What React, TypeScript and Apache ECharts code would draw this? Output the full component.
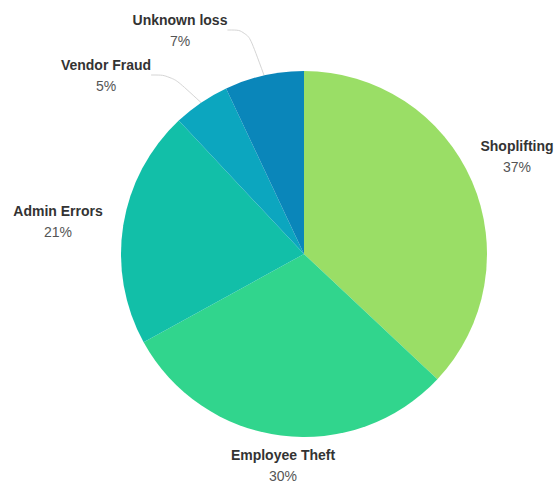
import React, { useEffect, useRef } from "react";
import * as echarts from "echarts";

const categories = ["Shoplifting", "Employee Theft", "Admin Errors", "Vendor Fraud", "Unknown loss"];
const values = [37, 30, 21, 5, 7];
const colors = ["#9ade66", "#31d58d", "#12bfa8", "#0ca6bf", "#0a86ba"];
const showLines = [false, false, false, true, true];
const labelPos: [number, number][] = [
  [517, 156],
  [283, 465],
  [58, 221],
  [106, 75],
  [180, 30],
];

export default function App() {
  const ref = useRef<HTMLDivElement>(null);
  useEffect(() => {
    if (!ref.current) return;
    const chart = echarts.init(ref.current, undefined, { renderer: "svg" });
    chart.setOption({
      animation: false,
      backgroundColor: "#ffffff",
      series: [
        {
          type: "pie",
          center: [304, 254],
          radius: 183,
          startAngle: 90,
          clockwise: true,
          percentPrecision: 0,
          data: categories.map((c, i) => ({
            name: c,
            value: values[i],
            itemStyle: { color: colors[i] },
            labelLine: { show: showLines[i] },
          })),
          label: {
            show: true,
            position: "outside",
            overflow: "none",
            formatter: "{n|{b}}\n{p|{d}%}",
            fontFamily: "Liberation Sans",
            rich: {
              n: { fontFamily: "Liberation Sans", fontWeight: "bold", fontSize: 14, color: "#333333", lineHeight: 21, align: "center" },
              p: { fontFamily: "Liberation Sans", fontSize: 14, color: "#555555", lineHeight: 21, align: "center" },
            },
          },
          labelLine: {
            show: true,
            smooth: 0.4,
            length: 20,
            length2: 20,
            lineStyle: { color: "#d5d5d5", width: 1 },
          },
          labelLayout: (params: any) => {
            const p = labelPos[params.dataIndex];
            return { x: p[0], y: p[1], align: "center", verticalAlign: "middle" };
          },
        },
      ],
    });
    return () => chart.dispose();
  }, []);
  return <div ref={ref} style={{ position: "absolute", left: 0, top: 0, width: 558, height: 485 }} />;
}
